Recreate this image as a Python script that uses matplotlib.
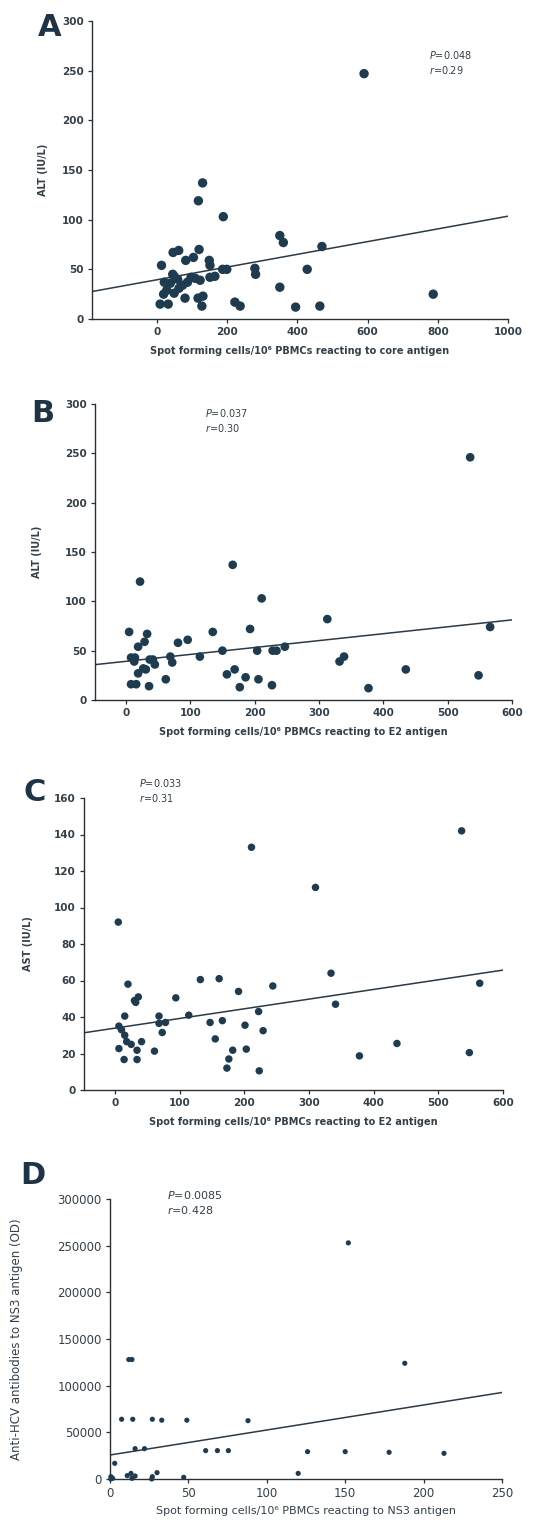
import numpy as np
import matplotlib
matplotlib.use("Agg")
import matplotlib.pyplot as plt

plt.rcParams['font.family'] = ['DejaVu Sans']

# Panel A: core antigen vs ALT
a_x = [590, 787, 130, 118, 189, 350, 360, 470, 428, 350, 395, 464, 279, 281, 222, 237,
       13, 9, 32, 46, 62, 120, 104, 82, 149, 151, 80, 117, 131, 128, 187, 199, 165, 151,
       21, 45, 59, 28, 49, 73, 97, 123, 87, 38, 63, 19, 109, 49]
a_y = [247, 25, 137, 119, 103, 84, 77, 73, 50, 32, 12, 13, 51, 45, 17, 13,
       54, 15, 15, 67, 69, 70, 62, 59, 59, 54, 21, 21, 23, 13, 50, 50, 43, 42,
       37, 45, 40, 29, 26, 34, 42, 39, 37, 36, 31, 25, 41, 43]

# Panel B: E2 antigen vs ALT
b_x = [535, 22, 166, 211, 313, 566, 5, 33, 29, 19, 81, 96, 135, 193, 150, 204, 228, 234,
       247, 332, 339, 435, 377, 548, 115, 69, 72, 62, 157, 169, 186, 177, 206, 227,
       8, 14, 37, 45, 31, 19, 27, 8, 16, 36, 13, 42]
b_y = [246, 120, 137, 103, 82, 74, 69, 67, 59, 54, 58, 61, 69, 72, 50, 50, 50, 50,
       54, 39, 44, 31, 12, 25, 44, 44, 38, 21, 26, 31, 23, 13, 21, 15,
       43, 43, 41, 36, 31, 27, 32, 16, 16, 14, 39, 41]

# Panel C: E2 antigen vs AST
c_x = [536, 211, 310, 5, 334, 564, 341, 20, 132, 161, 191, 244, 94, 30, 36, 32, 114, 222,
       15, 68, 78, 68, 73, 147, 166, 155, 201, 229, 436, 378, 548, 6, 10, 15, 18, 25,
       6, 14, 34, 34, 41, 61, 182, 203, 176, 173, 223]
c_y = [142, 133, 111, 92, 64, 58.5, 47, 58, 60.5, 61, 54, 57, 50.5, 49, 51, 48, 41, 43,
       40.5, 40.5, 37, 36.5, 31.5, 37, 38, 28, 35.5, 32.5, 25.5, 18.7, 20.5, 35, 33, 30, 26.5, 25,
       22.7, 16.7, 21.8, 16.7, 26.5, 21.3, 21.8, 22.4, 17, 12, 10.5]

# Panel D: NS3 antigen vs anti-HCV antibodies
d_x = [152, 12, 14, 188, 7.4, 14.5, 27, 33, 49, 88, 16, 22, 61, 68.5, 75.5, 126, 150, 178,
       213, 3, 120, 47, 0.6, 1.7, 11, 13.4, 16, 27, 30, 26.6, 0.5, 14]
d_y = [253000, 128000, 128000, 124000, 64000, 64000, 64000, 63000, 63000, 62500, 32500,
       32500, 30400, 30400, 30400, 29300, 29300, 28600, 27500, 16800, 6000, 1800, 2500, 700,
       3600, 6000, 3200, 2500, 6800, 0, 0, 700]

# regression lines: intercept, slope
fit_a = [39.5, 0.064]
fit_b = [39.2, 0.070]
fit_c = [33.9, 0.053]
fit_d = [25700, 268]

ink = '#1f3b50'
txt = '#33404a'

fig = plt.figure(figsize=(5.35, 15.32), dpi=100)
W, H = 535, 1532


def px_axes(left, right, top, bottom):
    return fig.add_axes([left / W, 1 - bottom / H, (right - left) / W, (bottom - top) / H])


def style(ax, size, weight):
    for s in ['top', 'right']:
        ax.spines[s].set_visible(False)
    for s in ['left', 'bottom']:
        ax.spines[s].set_color('#2b2f33')
        ax.spines[s].set_linewidth(1.0)
    ax.tick_params(direction='out', length=3, width=0.9, colors='#2b2f33',
                   labelcolor=txt, labelsize=size, pad=3)
    for lab in ax.get_xticklabels() + ax.get_yticklabels():
        lab.set_fontweight(weight)


panels = [
    dict(x=a_x, y=a_y, fit=fit_a, box=(92, 508, 21, 319), xlim=(-185, 1000), ylim=(0, 300),
         xt=[0, 200, 400, 600, 800, 1000], yt=[0, 50, 100, 150, 200, 250, 300], ms=46,
         xl='Spot forming cells/10\u2076 PBMCs reacting to core antigen', yl='ALT (IU/L)',
         stats=('0.048', '0.29'), sp=(429, 55), letter='A', lp=(50, 27), ylx=48),
    dict(x=b_x, y=b_y, fit=fit_b, box=(95, 512, 404, 700), xlim=(-48, 600), ylim=(0, 300),
         xt=[0, 100, 200, 300, 400, 500, 600], yt=[0, 50, 100, 150, 200, 250, 300], ms=39,
         xl='Spot forming cells/10\u2076 PBMCs reacting to E2 antigen', yl='ALT (IU/L)',
         stats=('0.037', '0.30'), sp=(205, 413), letter='B', lp=(43, 413), ylx=42),
    dict(x=c_x, y=c_y, fit=fit_c, box=(84, 503, 798, 1090), xlim=(-48, 600), ylim=(0, 160),
         xt=[0, 100, 200, 300, 400, 500, 600], yt=[0, 20, 40, 60, 80, 100, 120, 140, 160], ms=29,
         xl='Spot forming cells/10\u2076 PBMCs reacting to E2 antigen', yl='AST (IU/L)',
         stats=('0.033', '0.31'), sp=(139, 783), letter='C', lp=(35, 793), ylx=33),
]

for p in panels:
    ax = px_axes(*p['box'])
    ax.scatter(p['x'], p['y'], s=p['ms'], color=ink, edgecolors='none', zorder=3, clip_on=False)
    xs = np.array(p['xlim'])
    ax.plot(xs, p['fit'][0] + p['fit'][1] * xs, color='#2b3a44', lw=1.1, zorder=2)
    ax.set_xlim(*p['xlim'])
    ax.set_ylim(*p['ylim'])
    ax.set_xticks(p['xt'])
    ax.set_yticks(p['yt'])
    style(ax, 7.5, 'bold')
    ax.set_xlabel(p['xl'], fontsize=7, fontweight='bold', color=txt, labelpad=6)
    ax.set_ylabel(p['yl'], fontsize=7, fontweight='bold', color=txt)
    ax.yaxis.set_label_coords((p['ylx'] - p['box'][0]) / (p['box'][1] - p['box'][0]), 0.5)
    fig.text(p['sp'][0] / W, 1 - p['sp'][1] / H, r'$\it{P}$=' + p['stats'][0],
             fontsize=7, color=txt, va='center')
    fig.text(p['sp'][0] / W, 1 - (p['sp'][1] + 15) / H, r'$\it{r}$=' + p['stats'][1],
             fontsize=7, color=txt, va='center')
    fig.text(p['lp'][0] / W, 1 - p['lp'][1] / H, p['letter'], fontsize=22, fontweight='bold',
             color='#1f3346', ha='center', va='center')

# Panel D
ax = px_axes(110, 502, 1199, 1479)
ax.scatter(d_x, d_y, s=14, color=ink, edgecolors='none', zorder=3, clip_on=False)
xs = np.array([0, 250])
ax.plot(xs, fit_d[0] + fit_d[1] * xs, color='#2b3a44', lw=1.1, zorder=2)
ax.set_xlim(0, 250)
ax.set_ylim(0, 300000)
ax.set_xticks([0, 50, 100, 150, 200, 250])
ax.set_yticks([0, 50000, 100000, 150000, 200000, 250000, 300000])
style(ax, 8.5, 'normal')
ax.set_xlabel('Spot forming cells/10\u2076 PBMCs reacting to NS3 antigen', fontsize=8,
              color=txt, labelpad=4)
ax.set_ylabel('Anti-HCV antibodies to NS3 antigen (OD)', fontsize=8.5, color=txt)
ax.yaxis.set_label_coords((23 - 110) / 392, 0.5)
fig.text(167 / W, 1 - 1195 / H, r'$\it{P}$=0.0085', fontsize=8, color=txt, va='center')
fig.text(167 / W, 1 - 1210 / H, r'$\it{r}$=0.428', fontsize=8, color=txt, va='center')
fig.text(33 / W, 1 - 1175 / H, 'D', fontsize=22, fontweight='bold', color='#1f3346',
         ha='center', va='center')

fig.savefig('out.png', dpi=100)
